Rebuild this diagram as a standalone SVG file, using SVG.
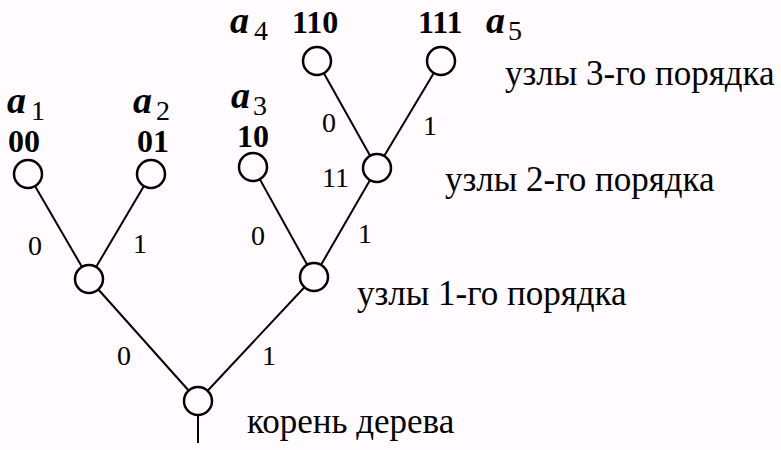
<svg xmlns="http://www.w3.org/2000/svg" width="781" height="450" viewBox="0 0 781 450" font-family="Liberation Serif, Times New Roman, DejaVu Serif, serif">
<style>
.bg{fill:#fffbff}
.n{fill:#fffbff;stroke:#000;stroke-width:2.5}
.e{stroke:#000;stroke-width:2;fill:none}
text{fill:#000}
.code{font-size:32px;font-weight:bold}
.a{font-size:38px;font-weight:bold;font-style:italic}
.sub{font-size:28px}
.el{font-size:28px}
.side{font-size:35px}
</style>
<rect class="bg" x="0" y="0" width="781" height="450"/>
<g id="connectors">
<line class="e" x1="28" y1="174" x2="89" y2="279"/>
<line class="e" x1="151" y1="174" x2="89" y2="279"/>
<line class="e" x1="253" y1="167" x2="314" y2="277"/>
<line class="e" x1="377" y1="168" x2="314" y2="277"/>
<line class="e" x1="317" y1="61" x2="377" y2="168"/>
<line class="e" x1="441" y1="61" x2="377" y2="168"/>
<line class="e" x1="89" y1="279" x2="198" y2="401"/>
<line class="e" x1="314" y1="277" x2="198" y2="401"/>
<line class="e" x1="198" y1="401" x2="198" y2="443"/>
<text class="el" x="322" y="132">0</text>
<text class="el" x="423" y="135">1</text>
<text class="el" x="28" y="255">0</text>
<text class="el" x="133" y="253">1</text>
<text class="el" x="251" y="245">0</text>
<text class="el" x="358" y="243">1</text>
<text class="el" x="117" y="365">0</text>
<text class="el" x="262" y="365">1</text>
</g>
<g id="a1">
<circle class="n" cx="28" cy="174" r="14"/>
<text class="a" x="7" y="113">a</text><text class="sub" x="31" y="120">1</text>
<text class="code" x="8" y="152">00</text>
</g>
<g id="a2">
<circle class="n" cx="151" cy="174" r="14"/>
<text class="a" x="133" y="113">a</text><text class="sub" x="156" y="120">2</text>
<text class="code" x="137" y="152">01</text>
</g>
<g id="a3">
<circle class="n" cx="253" cy="167" r="14"/>
<text class="a" x="231" y="108">a</text><text class="sub" x="253" y="115">3</text>
<text class="code" x="237" y="147">10</text>
</g>
<g id="a4">
<circle class="n" cx="317" cy="61" r="14"/>
<text class="a" x="230" y="33">a</text><text class="sub" x="254" y="40">4</text>
<text class="code" x="292" y="33">110</text>
</g>
<g id="a5">
<circle class="n" cx="441" cy="61" r="14"/>
<text class="code" x="418" y="33">111</text>
<text class="a" x="486" y="33">a</text><text class="sub" x="508" y="40">5</text>
</g>
<g id="node11">
<circle class="n" cx="377" cy="168" r="14"/>
<text class="el" x="322" y="187">11</text>
</g>
<g id="node1L">
<circle class="n" cx="89" cy="279" r="14"/>
</g>
<g id="node1R">
<circle class="n" cx="314" cy="277" r="14"/>
</g>
<g id="root">
<circle class="n" cx="198" cy="401" r="14"/>
</g>
<g id="legend">
<text class="side" x="505" y="85">узлы 3-го порядка</text>
<text class="side" x="445" y="191">узлы 2-го порядка</text>
<text class="side" x="357" y="305">узлы 1-го порядка</text>
<text class="side" x="247" y="433">корень дерева</text>
</g>
</svg>
